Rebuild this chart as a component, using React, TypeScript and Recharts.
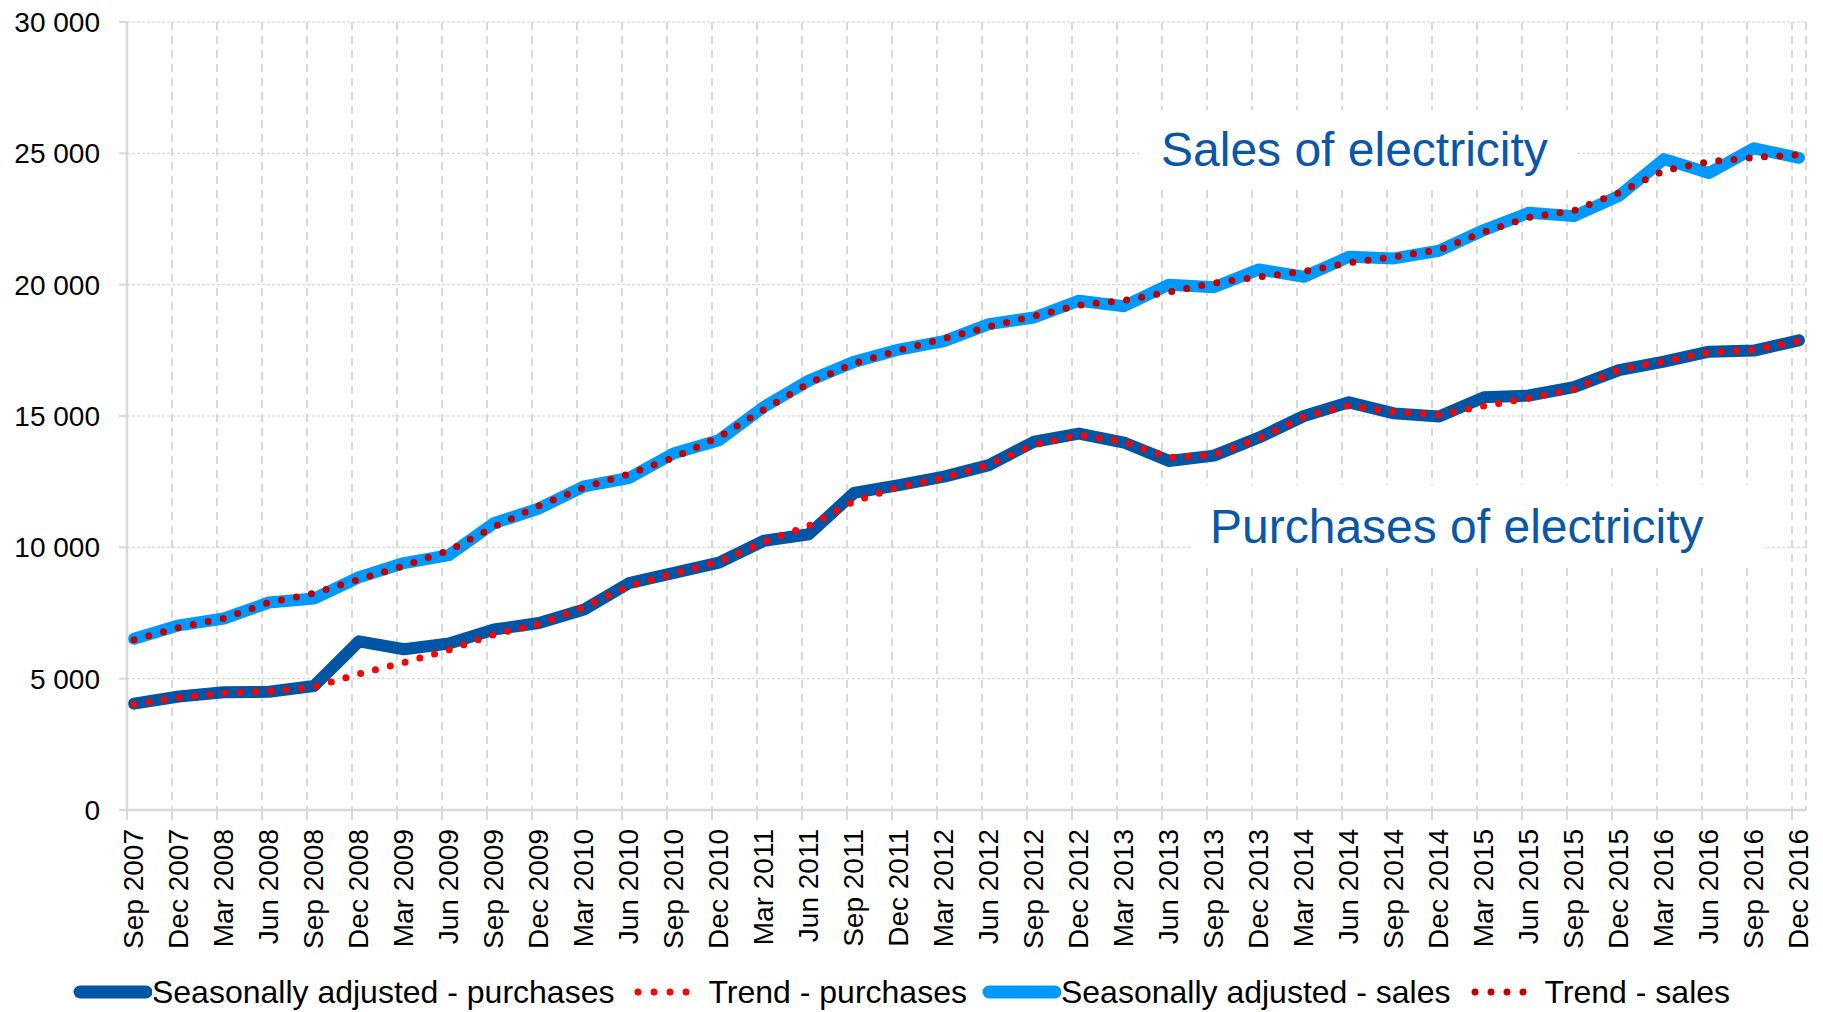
import React from 'react';
import { LineChart, Line, XAxis, YAxis, CartesianGrid, Legend } from 'recharts';

const quarters = [
  'Sep 2007', 'Dec 2007', 'Mar 2008', 'Jun 2008', 'Sep 2008', 'Dec 2008', 'Mar 2009', 'Jun 2009',
  'Sep 2009', 'Dec 2009', 'Mar 2010', 'Jun 2010', 'Sep 2010', 'Dec 2010', 'Mar 2011', 'Jun 2011',
  'Sep 2011', 'Dec 2011', 'Mar 2012', 'Jun 2012', 'Sep 2012', 'Dec 2012', 'Mar 2013', 'Jun 2013',
  'Sep 2013', 'Dec 2013', 'Mar 2014', 'Jun 2014', 'Sep 2014', 'Dec 2014', 'Mar 2015', 'Jun 2015',
  'Sep 2015', 'Dec 2015', 'Mar 2016', 'Jun 2016', 'Sep 2016', 'Dec 2016',
];

const purchasesSA = [
  4050, 4320, 4480, 4500, 4720, 6420, 6120, 6340, 6870, 7120, 7630, 8640, 9030, 9420, 10250, 10500,
  12070, 12370, 12690, 13130, 14020, 14330, 13990, 13290, 13490, 14180, 15000, 15520, 15100, 14980,
  15710, 15780, 16100, 16750, 17070, 17450, 17490, 17880,
];

const purchasesTrend = [
  4030, 4280, 4450, 4520, 4680, 5180, 5610, 6100, 6680, 7080, 7720, 8520, 9000, 9450, 10200, 10820,
  11750, 12300, 12650, 13150, 13900, 14280, 14020, 13420, 13520, 14150, 14970, 15400, 15150, 15050,
  15380, 15680, 16020, 16760, 17080, 17420, 17520, 17850,
];

const salesSA = [
  6520, 7030, 7290, 7900, 8050, 8860, 9400, 9700, 10920, 11480, 12320, 12640, 13580, 14080, 15350, 16350,
  17060, 17530, 17850, 18500, 18750, 19390, 19180, 20000, 19900, 20580, 20300, 21060, 21000, 21290,
  22080, 22740, 22610, 23380, 24780, 24250, 25190, 24830,
];

const salesTrend = [
  6480, 6950, 7300, 7900, 8250, 8780, 9290, 9880, 10780, 11580, 12280, 12790, 13420, 14200, 15250, 16250,
  17000, 17500, 17950, 18400, 18800, 19220, 19400, 19720, 20060, 20300, 20500, 20830, 21060, 21320,
  22010, 22560, 22820, 23500, 24340, 24680, 24840, 24950,
];

const yTicks = [0, 5000, 10000, 15000, 20000, 25000, 30000];

const seriesNames = [
  'Seasonally adjusted - purchases',
  'Trend - purchases',
  'Seasonally adjusted - sales',
  'Trend - sales',
];

const annotations = ['Sales of electricity', 'Purchases of electricity'];

const data = quarters.map((q, i) => ({
  idx: i,
  quarter: q,
  pSA: purchasesSA[i],
  pT: purchasesTrend[i],
  sSA: salesSA[i],
  sT: salesTrend[i],
}));

const FONT = '"Liberation Sans", Arial, Helvetica, sans-serif';
const DARK_BLUE = '#0055A5';
const LIGHT_BLUE = '#0099FF';
const RED = '#FF0000';
const DARK_RED = '#C00000';
const AXIS_GREY = '#D9D9D9';
const TEXT_BLUE = '#0A56A8';

const W = 1823;
const H = 1012;

// tick marks sit a little to the left of the data points (Excel "between" feel)
const TICK_SHIFT = 0.155;
const xTicks = quarters.map((_, i) => i - TICK_SHIFT);

const fmtThousands = (v: number) => String(v).replace(/\B(?=(\d{3})+(?!\d))/g, ' ');

const XTick = (props: any) => {
  const { x, y, payload } = props;
  const i = Math.round(payload.value + TICK_SHIFT);
  const px = x + 16;
  return (
    <text
      x={px}
      y={y}
      transform={`rotate(-90, ${px}, ${y})`}
      textAnchor="end"
      fontSize={28}
      fontFamily={FONT}
      fill="#000"
    >
      {quarters[i]}
    </text>
  );
};

const YTick = (props: any) => {
  const { x, y, payload } = props;
  return (
    <text x={x} y={y} dy="0.36em" textAnchor="end" fontSize={28} fontFamily={FONT} fill="#000">
      {fmtThousands(payload.value)}
    </text>
  );
};

const LineSample = ({ color }: { color: string }) => (
  <svg width={84} height={40} style={{ flex: 'none' }}>
    <line x1={12} y1={20} x2={78} y2={20} stroke={color} strokeWidth={13} strokeLinecap="round" />
  </svg>
);

const DotSample = ({ color }: { color: string }) => (
  <svg width={84} height={40} style={{ flex: 'none' }}>
    <line
      x1={14}
      y1={20}
      x2={78}
      y2={20}
      stroke={color}
      strokeWidth={7}
      strokeLinecap="round"
      strokeDasharray="0 16"
    />
  </svg>
);

const legendColors = [DARK_BLUE, RED, LIGHT_BLUE, DARK_RED];

const renderLegend = () => (
  <div
    style={{
      display: 'flex',
      justifyContent: 'center',
      alignItems: 'center',
      height: 40,
      paddingRight: 8,
      fontFamily: FONT,
      fontSize: 32,
      color: '#000',
      whiteSpace: 'nowrap',
    }}
  >
    {seriesNames.map((name, k) => (
      <div key={name} style={{ display: 'flex', alignItems: 'center', marginRight: k < 3 ? 10 : 0 }}>
        {k % 2 === 0 ? <LineSample color={legendColors[k]} /> : <DotSample color={legendColors[k]} />}
        <span style={{ lineHeight: '40px' }}>{name}</span>
      </div>
    ))}
  </div>
);

export default function App() {
  return (
    <div style={{ position: 'absolute', left: 0, top: 0, width: W, height: H, background: '#fff' }}>
      <LineChart
        width={W}
        height={H}
        data={data}
        margin={{ top: 22, right: 17, bottom: 0, left: 0 }}
      >
        <CartesianGrid
          horizontal={true}
          vertical={false}
          stroke="#CFCFCF"
          strokeWidth={1}
          strokeDasharray="3 2"
        />
        <CartesianGrid
          horizontal={false}
          vertical={true}
          stroke={AXIS_GREY}
          strokeWidth={2}
          strokeDasharray="8 6"
        />
        <XAxis
          type="number"
          dataKey="idx"
          domain={[-TICK_SHIFT, 37.156]}
          ticks={xTicks}
          interval={0}
          height={162}
          tickSize={10}
          tickMargin={9}
          axisLine={{ stroke: AXIS_GREY, strokeWidth: 2.5 }}
          tickLine={{ stroke: AXIS_GREY, strokeWidth: 2 }}
          tick={<XTick />}
          allowDataOverflow
        />
        <YAxis
          domain={[0, 30000]}
          ticks={yTicks}
          interval={0}
          width={127}
          tickSize={8}
          tickMargin={19}
          axisLine={{ stroke: AXIS_GREY, strokeWidth: 2.5 }}
          tickLine={{ stroke: AXIS_GREY, strokeWidth: 2 }}
          tick={<YTick />}
        />
        <Legend verticalAlign="bottom" align="center" content={renderLegend} wrapperStyle={{ height: 40 }} />
        <Line
          type="linear"
          dataKey="pSA"
          name={seriesNames[0]}
          stroke={DARK_BLUE}
          strokeWidth={12}
          strokeLinejoin="round"
          strokeLinecap="round"
          dot={false}
          activeDot={false}
          isAnimationActive={false}
        />
        <Line
          type="linear"
          dataKey="pT"
          name={seriesNames[1]}
          stroke={RED}
          strokeWidth={7}
          strokeLinecap="round"
          strokeDasharray="0 15.3"
          dot={false}
          activeDot={false}
          isAnimationActive={false}
        />
        <Line
          type="linear"
          dataKey="sSA"
          name={seriesNames[2]}
          stroke={LIGHT_BLUE}
          strokeWidth={12}
          strokeLinejoin="round"
          strokeLinecap="round"
          dot={false}
          activeDot={false}
          isAnimationActive={false}
        />
        <Line
          type="linear"
          dataKey="sT"
          name={seriesNames[3]}
          stroke={DARK_RED}
          strokeWidth={7}
          strokeLinecap="round"
          strokeDasharray="0 15.3"
          dot={false}
          activeDot={false}
          isAnimationActive={false}
        />
      </LineChart>
      <svg
        width={W}
        height={H}
        style={{ position: 'absolute', left: 0, top: 0, pointerEvents: 'none' }}
      >
        <rect x={1140} y={110} width={437} height={78} fill="#fff" />
        <text x={1161} y={166} fontSize={48} fontFamily={FONT} fill={TEXT_BLUE}>
          {annotations[0]}
        </text>
        <rect x={1190} y={485} width={574} height={78} fill="#fff" />
        <text x={1210} y={543} fontSize={48} fontFamily={FONT} fill={TEXT_BLUE}>
          {annotations[1]}
        </text>
      </svg>
    </div>
  );
}
